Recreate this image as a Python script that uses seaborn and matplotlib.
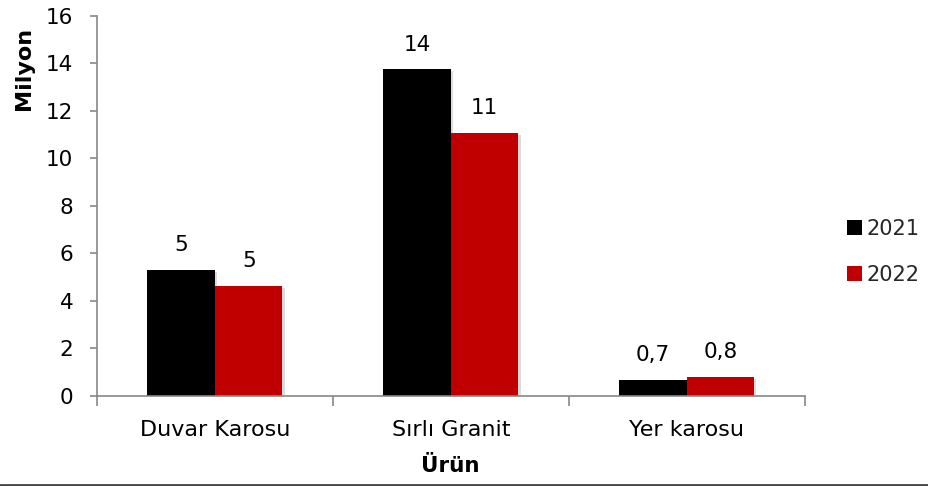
import matplotlib
matplotlib.use("Agg")
import matplotlib.pyplot as plt
import matplotlib.patheffects as pe
from matplotlib.patches import Patch
from matplotlib.lines import Line2D
import seaborn as sns
import pandas as pd

categories = ["Duvar Karosu", "Sırlı Granit", "Yer karosu"]
years = ["2021", "2022"]
values_2021 = [5.31, 13.75, 0.67]
values_2022 = [4.63, 11.09, 0.81]
labels_2021 = ["5", "14", "0,7"]
labels_2022 = ["5", "11", "0,8"]
colors = ["#000000", "#C00000"]
y_ticks = [0, 2, 4, 6, 8, 10, 12, 14, 16]

df = pd.DataFrame({
    "Ürün": categories * 2,
    "Yıl": [years[0]] * 3 + [years[1]] * 3,
    "Değer": values_2021 + values_2022,
})

sns.set_theme(style="white")
plt.rcParams["font.family"] = ["DejaVu Sans"]

fig = plt.figure(figsize=(9.29, 4.86), dpi=100)
ax = fig.add_axes([0.1044, 0.1852, 0.762, 0.782])

sns.barplot(data=df, x="Ürün", y="Değer", hue="Yıl", order=categories,
            hue_order=years, palette=colors, width=0.572, ax=ax,
            legend=False, saturation=1, edgecolor="none", linewidth=0)

shadow = [pe.SimplePatchShadow(offset=(1.5, -1.5), shadow_rgbFace="#888888", alpha=0.3), pe.Normal()]
for c in ax.containers:
    for p in c:
        p.set_path_effects(shadow)

for cont, labs in zip(ax.containers, [labels_2021, labels_2022]):
    ax.bar_label(cont, labels=labs, padding=10.5, fontsize=15.5, color="#000000")

ax.set_xlim(-0.5, 2.5)
ax.set_ylim(0, 16)
ax.set_yticks(y_ticks)
ax.set_yticklabels([str(t) for t in y_ticks], fontsize=15.5)
ax.set_xticks([0, 1, 2])
ax.set_xticklabels(categories, fontsize=16)
ax.set_xticks([-0.5, 0.5, 1.5, 2.5], minor=True)
ax.tick_params(axis="x", which="major", length=0, pad=17, colors="#000000")
ax.tick_params(axis="x", which="minor", length=7, width=1.2, color="#888888", direction="out", bottom=True)
ax.tick_params(axis="y", which="major", length=5, width=1.2, color="#888888", direction="out", left=True, pad=12)
for lab in ax.get_xticklabels() + ax.get_yticklabels():
    lab.set_color("#000000")

ax.set_xlabel("")
ax.set_ylabel("")
for s in ["top", "right"]:
    ax.spines[s].set_visible(False)
for s in ["left", "bottom"]:
    ax.spines[s].set_color("#888888")
    ax.spines[s].set_linewidth(1.2)

fig.text(24 / 929, 1 - 68 / 486, "Milyon", rotation=90, ha="center", va="center",
         fontsize=16, fontweight="bold", color="#000000")
fig.text(450 / 929, 1 - 466 / 486, "Ürün", ha="center", va="center",
         fontsize=15.5, fontweight="bold", color="#000000")

handles = [Patch(facecolor=colors[0], edgecolor="none"), Patch(facecolor=colors[1], edgecolor="none")]
fig.legend(handles, years, loc="center left", bbox_to_anchor=(847 / 929, 1 - 252 / 486),
           frameon=False, fontsize=15, handlelength=0.7, handleheight=0.7,
           handletextpad=0.25, labelspacing=1.25, borderaxespad=0, borderpad=0)

fig.add_artist(Line2D([0, 1], [1.5 / 486, 1.5 / 486], transform=fig.transFigure,
                      color="#444444", linewidth=2))

fig.savefig("out.png", dpi=100)
